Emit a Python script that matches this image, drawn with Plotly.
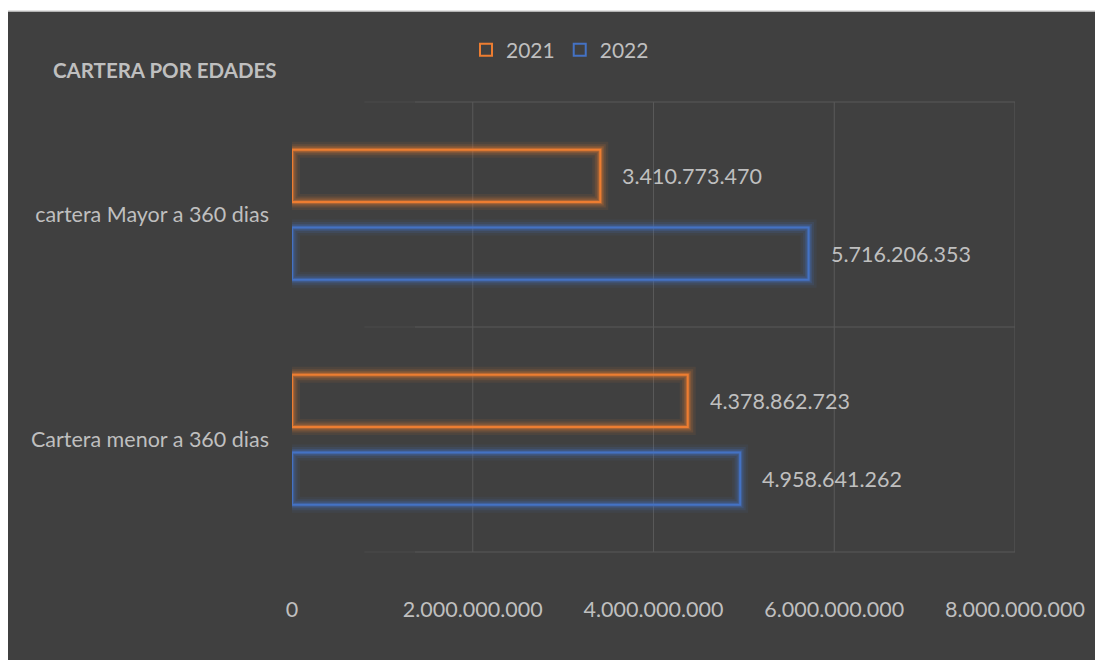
import plotly.graph_objects as go

categories = ["Cartera menor a 360 dias", "cartera Mayor a 360 dias"]
series_names = ["2021", "2022"]
values_2021 = [4378862723, 3410773470]
values_2022 = [4958641262, 5716206353]
tick_vals = [0, 2000000000, 4000000000, 6000000000, 8000000000]
tick_text = ["0", "2.000.000.000", "4.000.000.000", "6.000.000.000", "8.000.000.000"]
title_text = "CARTERA POR EDADES"

# page body has an 8px margin; figure is laid out to compensate
W, H = 1095, 652
ML, MR, MT, MB = 284, 88, 94, 108
PW, PH = W - ML - MR, H - MT - MB
cat_px = PH / len(categories)

colors = {"2021": "#ED7D31", "2022": "#4472C4"}
bar_w = 0.232
offsets = {"2021": 0.056, "2022": -0.290}
FONT = "Lato"
TXT = "#BFBFBF"


def fmt(v):
    return f"{v:,}".replace(",", ".")


fig = go.Figure()
series = {"2021": values_2021, "2022": values_2022}

# glow layers
for name in series_names:
    for lw, op in [(16, 0.08), (11, 0.14), (7, 0.22), (4, 0.35)]:
        fig.add_trace(go.Bar(
            y=categories, x=series[name], orientation="h",
            width=bar_w, offset=offsets[name],
            marker=dict(color="rgba(0,0,0,0)", line=dict(color=colors[name], width=lw)),
            opacity=op, showlegend=False, hoverinfo="skip"))

for name in series_names:
    fig.add_trace(go.Bar(
        y=categories, x=series[name], orientation="h", name=name,
        width=bar_w, offset=offsets[name],
        marker=dict(color="rgba(0,0,0,0)", line=dict(color=colors[name], width=2))))

# data labels
annotations = []
for name in series_names:
    shift = (offsets[name] + bar_w / 2) * cat_px
    for cat, v in zip(categories, series[name]):
        annotations.append(dict(
            x=v, y=cat, xref="x", yref="y", text=fmt(v), showarrow=False,
            xanchor="left", yanchor="middle", xshift=20, yshift=shift,
            font=dict(family=FONT, size=21.5, color=TXT)))

shapes = [
    dict(type="rect", xref="paper", yref="paper",
         x0=(-1 - ML) / PW, x1=1.3, y0=-0.5, y1=(H - MB - 3) / PH,
         fillcolor="#404040", line=dict(color="#D9D9D9", width=1.5), layer="below"),
]
grid = "#595959"
for tv in tick_vals[1:]:
    shapes.append(dict(type="line", xref="x", yref="paper", x0=tv, x1=tv, y0=0, y1=1,
                       line=dict(color=grid, width=1), layer="below"))
for yy in [0, 0.5, 1]:
    shapes.append(dict(type="line", xref="paper", yref="paper", x0=0.1, x1=0.17, y0=yy, y1=yy,
                       line=dict(color="#4A4A4A", width=1), layer="below"))
    shapes.append(dict(type="line", xref="paper", yref="paper", x0=0.17, x1=1, y0=yy, y1=yy,
                       line=dict(color=grid, width=1), layer="below"))

fig.update_layout(
    width=W, height=H,
    margin=dict(l=ML, r=MR, t=MT, b=MB),
    paper_bgcolor="white", plot_bgcolor="rgba(0,0,0,0)",
    barmode="overlay",
    font=dict(family=FONT, size=21, color=TXT),
    title=dict(text="<b>" + title_text + "</b>", x=(53 - 8) / W, xanchor="left",
               y=1 - (71 - 8) / H, yanchor="middle", font=dict(family=FONT, size=20.5, color=TXT)),
    legend=dict(orientation="h", x=(560 - 8 - ML) / PW, xanchor="center",
                y=(H - MB - (50 - 8)) / PH, yanchor="middle",
                font=dict(family=FONT, size=21, color=TXT), bgcolor="rgba(0,0,0,0)",
                itemwidth=30, traceorder="normal"),
    xaxis=dict(range=[0, 8000000000], tickvals=tick_vals, ticktext=tick_text,
               showgrid=False, zeroline=False, showline=False, ticks="",
               ticklabelstandoff=42, tickfont=dict(family=FONT, size=21.5, color=TXT)),
    yaxis=dict(type="category", categoryorder="array", categoryarray=categories,
               range=[-0.5, 1.5], showgrid=False, zeroline=False, showline=False, ticks="",
               ticklabelstandoff=22, tickfont=dict(family=FONT, size=21.5, color=TXT)),
    shapes=shapes, annotations=annotations,
)

fig.write_html("out.html")
